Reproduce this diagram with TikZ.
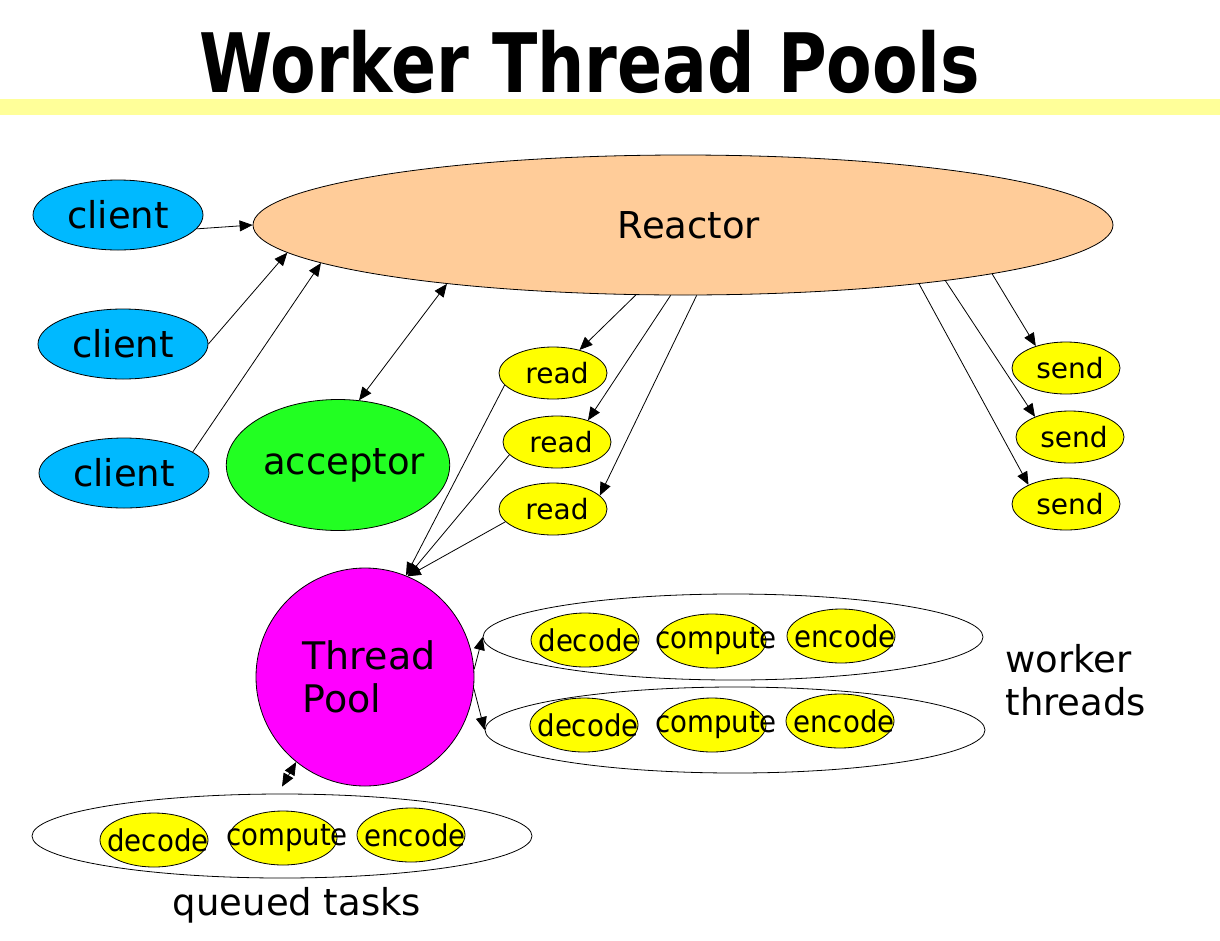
\documentclass[tikz,border=0pt]{standalone}
\usepackage{fontspec}
\setmainfont{DejaVu Sans}
\newfontfamily\titlefont[FakeStretch=0.81]{DejaVu Sans}
\newfontfamily\taskfont[FakeStretch=0.92]{DejaVu Sans}
\usepackage{tikz}
\usetikzlibrary{shapes.geometric, arrows.meta, positioning}

\definecolor{band}{HTML}{FFFF99}
\definecolor{reactorfill}{HTML}{FFCC99}
\definecolor{clientblue}{HTML}{00B9FF}
\definecolor{accgreen}{HTML}{22FF22}
\definecolor{poolpink}{HTML}{FF00FF}
\definecolor{opyellow}{HTML}{FFFF00}

\begin{document}
\begin{tikzpicture}[
    x=1pt, y=-1pt,
    >={Triangle[length=13pt, width=11pt]},
    obj/.style={ellipse, draw, line width=0.8pt, inner sep=0pt, font=\fontsize{37}{43}\selectfont},
    clnt/.style={obj, fill=clientblue, minimum width=170pt, minimum height=70pt},
    op/.style={ellipse, draw, fill=opyellow, line width=0.8pt, minimum width=108pt, minimum height=52pt, inner sep=0pt, font=\fontsize{28}{30}\selectfont},
    task/.style={ellipse, draw, fill=opyellow, line width=0.8pt, minimum width=108pt, minimum height=54pt, inner sep=0pt,
        label={[font=\taskfont\fontsize{30}{32}\selectfont, xshift=4pt]center:#1}},
    grp/.style={ellipse, draw, line width=0.8pt, minimum width=500pt, minimum height=86pt, inner sep=0pt},
    arr/.style={->, line width=0.8pt},
    lbl/.style={font=\fontsize{37}{43}\selectfont, align=left}
]
\path[use as bounding box, fill=white] (0,0) rectangle (1220,940);

% Heading and band
\node[font=\titlefont\bfseries\fontsize{82}{90}\selectfont, anchor=base] (title) at (590,92) {Worker Thread Pools};
\fill[band] (0,99) rectangle (1220,115);

% Reactor, clients and acceptor
\node[obj, fill=reactorfill, minimum width=860pt, minimum height=140pt] (reactor) at (683,225) {\hspace{12pt}Reactor};

\node[clnt] (c1) at (118,215) {client};
\node[clnt] (c2) at (123,344) {client};
\node[clnt] (c3) at (124,473) {client};

\node[obj, fill=accgreen, minimum width=220pt, minimum height=131pt, inner xsep=-8pt] (acc) at (338,465) {\hspace{12pt}acceptor};

% Read and send handlers
\node[op] (r1) at (553,373) {\hspace{8pt}read};
\node[op] (r2) at (557,442) {\hspace{8pt}read};
\node[op] (r3) at (553,509) {\hspace{8pt}read};

\node[op] (s1) at (1066,368) {\hspace{8pt}send};
\node[op] (s2) at (1070,437) {\hspace{8pt}send};
\node[op] (s3) at (1066,504) {\hspace{8pt}send};

% Thread pool
\node[circle, draw, fill=poolpink, line width=0.8pt, minimum size=218pt, inner sep=0pt, align=left, font=\fontsize{38}{43}\selectfont] (pool) at (365,677) {\hspace{8pt}Thread\\\hspace{8pt}Pool};

% Worker threads
\node[grp] (w1) at (733,637) {};
\node[task=decode] (w1d) at (585,640) {};
\node[task=compute] (w1c) at (712,641) {};
\node[task=encode] (w1e) at (841,636) {};

\node[grp] (w2) at (735,730) {};
\node[task=decode] (w2d) at (584,725) {};
\node[task=compute] (w2c) at (712,725) {};
\node[task=encode] (w2e) at (840,721) {};

\node[lbl, anchor=west] (wt) at (1002,680) {worker\\threads};

% Queued tasks
\node[grp, minimum height=84pt] (q) at (282,836) {};
\node[task=decode] (qd) at (154,840) {};
\node[task=compute] (qc) at (283,838) {};
\node[task=encode] (qe) at (411,835) {};

\node[lbl, below=5pt of q, xshift=15pt] (qt) {queued tasks};

% ---- ARROWS ----
% clients -> reactor
\draw[arr] (c1.-10) -- (reactor.west);
\draw[arr] (c2.east) -- (reactor.184);
\draw[arr] (c3.17) -- (reactor.186);

% reactor <-> acceptor
\draw[arr, <->] (reactor.194) -- (acc.72);

% reactor -> reads
\draw[arr] (reactor.236) -- (r1.41);
\draw[arr] (reactor.260) -- (r2.35);
\draw[arr] (reactor.281) -- (r3.16);

% reactor -> sends
\draw[arr] (reactor.-9) -- (s1.144);
\draw[arr] (reactor.-12) -- (s2.150);
\draw[arr] (reactor.-14) -- (s3.153);

% reads -> pool
\draw[arr] (r1.194) -- (pool.68);
\draw[arr] (r2.195) -- (pool.67);
\draw[arr] (r3.195) -- (pool.67);

% pool -> workers, pool <-> queue
\draw[arr] (pool.4) -- (w1.west);
\draw[arr] (pool.-6) -- (w2.west);
\draw[arr, <->] (pool.231) -- ([yshift=7pt]q.north);

\end{tikzpicture}
\end{document}
